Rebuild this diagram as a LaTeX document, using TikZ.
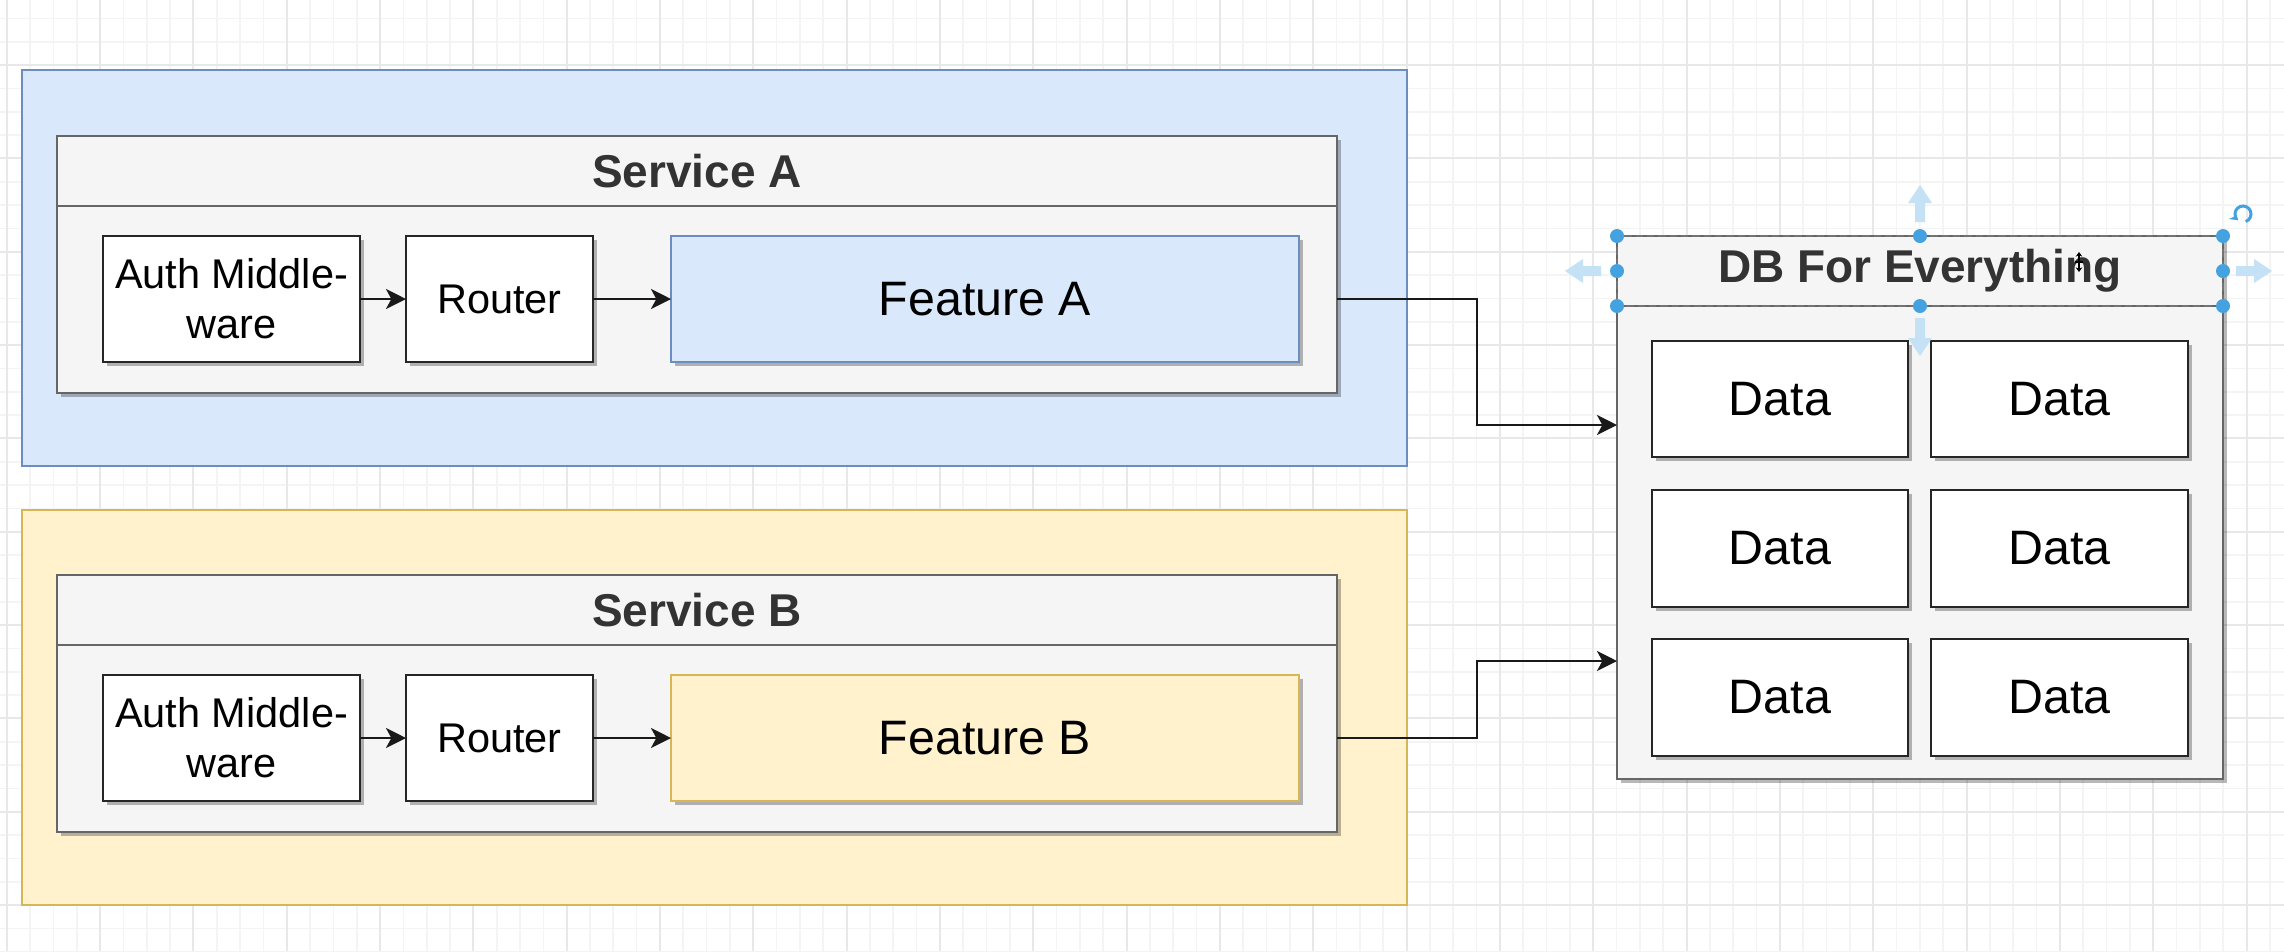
\documentclass[tikz,border=0pt]{standalone}
\usepackage{fontspec}
\setmainfont{Liberation Sans}
\usetikzlibrary{arrows.meta,shadows}

% one drawing unit = one pixel of the canvas
\newlength\px
\setlength\px{0.3pt}

\definecolor{blueFill}{HTML}{DAE8FC}
\definecolor{blueLine}{HTML}{6C8EBF}
\definecolor{yellowFill}{HTML}{FFF2CC}
\definecolor{yellowLine}{HTML}{D6B656}
\definecolor{laneFill}{HTML}{F5F5F5}
\definecolor{laneLine}{HTML}{666666}
\definecolor{titleText}{HTML}{333333}
\definecolor{gridMinor}{HTML}{F4F4F4}
\definecolor{gridMajor}{HTML}{E8E8E8}
\definecolor{handleBlue}{HTML}{45A2E0}
\definecolor{hoverBlue}{HTML}{C4E1F6}

\begin{document}
\begin{tikzpicture}[x=0.3pt, y=-0.3pt,
  shd/.style={drop shadow={shadow xshift=1.2pt, shadow yshift=-1.2pt, opacity=.28, fill=black}},
  place/.style={anchor=north west, inner sep=0pt, outer sep=0pt},
  outerbox/.style={place, line width=0.6pt},
  lane/.style={place, shd, draw=laneLine, fill=laneFill, line width=0.8pt},
  lanehead/.style={place, draw=laneLine, fill=laneFill, line width=0.8pt,
    text=titleText, font=\fontsize{13.8}{16}\selectfont\bfseries},
  box/.style={place, shd, draw=black!85, fill=white, line width=0.8pt},
  smalltext/.style={font=\fontsize{12.45}{15}\selectfont, align=center},
  bigtext/.style={font=\fontsize{14.5}{17}\selectfont},
  conn/.style={draw=black!90, line width=0.75pt, -{Stealth[length=6pt, width=6pt, inset=1.6pt]}},
  gridminor/.style={draw=gridMinor, line width=0.5pt},
  gridmajor/.style={draw=gridMajor, line width=0.6pt},
  handle/.style={fill=handleBlue},
  hover/.style={fill=hoverBlue, draw=none},
  seldash/.style={draw=black!55, line width=0.7pt, dash pattern=on 2.2pt off 1.2pt},
]

% canvas and grid
\useasboundingbox (0,0) rectangle (2284,951);
\fill[white] (0,0) rectangle (2284,951);
\foreach \i in {0,...,97} {
  \draw[gridminor] ({6.67+23.333*\i},0) -- ({6.67+23.333*\i},951);
}
\foreach \j in {0,...,42} {
  \draw[gridminor] (0,{-28.33+23.333*\j}) -- (2284,{-28.33+23.333*\j});
}
\foreach \i in {0,...,24} {
  \draw[gridmajor] ({6.67+93.333*\i},0) -- ({6.67+93.333*\i},951);
}
\foreach \j in {0,...,10} {
  \draw[gridmajor] (0,{-28.33+93.333*\j}) -- (2284,{-28.33+93.333*\j});
}

% ---------------- Service A ----------------
\node[outerbox, draw=blueLine, fill=blueFill, minimum width=1385\px, minimum height=396\px] (outA) at (22,70) {};
\node[lane, minimum width=1280\px, minimum height=257\px] (contA) at (57,136) {};
\node[lanehead, minimum width=1280\px, minimum height=70\px] (headA) at (57,136) {Service A};
\node[box, smalltext, minimum width=257\px, minimum height=126\px] (authA) at (103,236) {Auth Middle-\\ware};
\node[box, smalltext, minimum width=187\px, minimum height=126\px] (routA) at (406,236) {Router};
\node[box, bigtext, draw=blueLine, fill=blueFill, minimum width=628\px, minimum height=126\px] (featA) at (671,236) {Feature A};
\draw[conn] (authA) -- (routA);
\draw[conn] (routA) -- (featA);

% ---------------- Service B ----------------
\node[outerbox, draw=yellowLine, fill=yellowFill, minimum width=1385\px, minimum height=395\px] (outB) at (22,510) {};
\node[lane, minimum width=1280\px, minimum height=257\px] (contB) at (57,575) {};
\node[lanehead, minimum width=1280\px, minimum height=70\px] (headB) at (57,575) {Service B};
\node[box, smalltext, minimum width=257\px, minimum height=126\px] (authB) at (103,675) {Auth Middle-\\ware};
\node[box, smalltext, minimum width=187\px, minimum height=126\px] (routB) at (406,675) {Router};
\node[box, bigtext, draw=yellowLine, fill=yellowFill, minimum width=628\px, minimum height=126\px] (featB) at (671,675) {Feature B};
\draw[conn] (authB) -- (routB);
\draw[conn] (routB) -- (featB);

% ---------------- shared database ----------------
\node[lane, minimum width=606\px, minimum height=543\px] (db) at (1617,236) {};
\node[lanehead, minimum width=606\px, minimum height=70\px] (dbhead) at (1617,236) {DB For Everything};
\node[box, bigtext, minimum width=256\px, minimum height=116\px] (d11) at (1652,341) {Data};
\node[box, bigtext, minimum width=257\px, minimum height=116\px] (d12) at (1931,341) {Data};
\node[box, bigtext, minimum width=256\px, minimum height=117\px] (d21) at (1652,490) {Data};
\node[box, bigtext, minimum width=257\px, minimum height=117\px] (d22) at (1931,490) {Data};
\node[box, bigtext, minimum width=256\px, minimum height=117\px] (d31) at (1652,639) {Data};
\node[box, bigtext, minimum width=257\px, minimum height=117\px] (d32) at (1931,639) {Data};

% connectors from the services into the database
\coordinate (busx) at (1477,0);
\coordinate (inA) at (1617,425);
\coordinate (inB) at (1617,661);
\draw[conn] (contA.east |- featA.center) -| (busx |- inA) -- (inA);
\draw[conn] (contB.east |- featB.center) -| (busx |- inB) -- (inB);

% selection frame on the database header
\draw[seldash] (dbhead.north west) rectangle (dbhead.south east);
\foreach \a in {north west, north, north east, west, east, south west, south, south east} {
  \fill[handle] (dbhead.\a) circle[radius=2.1pt];
}
% hover arrows around the selection
\path[hover] (1915,222) -- (1915,203) -- (1908,203) -- (1920,185) -- (1932,203) -- (1925,203) -- (1925,222) -- cycle;
\path[hover] (1915,318) -- (1915,338) -- (1908,338) -- (1920,356) -- (1932,338) -- (1925,338) -- (1925,318) -- cycle;
\path[hover] (1601,266) -- (1583,266) -- (1583,259) -- (1565,271) -- (1583,283) -- (1583,276) -- (1601,276) -- cycle;
\path[hover] (2236,266) -- (2254,266) -- (2254,259) -- (2272,271) -- (2254,283) -- (2254,276) -- (2236,276) -- cycle;
% rotation handle
\draw[handleBlue, line width=0.9pt, -{Stealth[length=2.3pt, width=3pt]}]
  (2243,214) ++(70:8) arc[start angle=70, end angle=-230, radius=8];
% move cursor
\draw[black, line width=0.5pt, {Stealth[length=1.4pt, width=2pt]}-{Stealth[length=1.4pt, width=2pt]}] (2079,252) -- (2079,272);
\draw[black, line width=0.5pt] (2075,262) -- (2083,262);

\end{tikzpicture}
\end{document}
